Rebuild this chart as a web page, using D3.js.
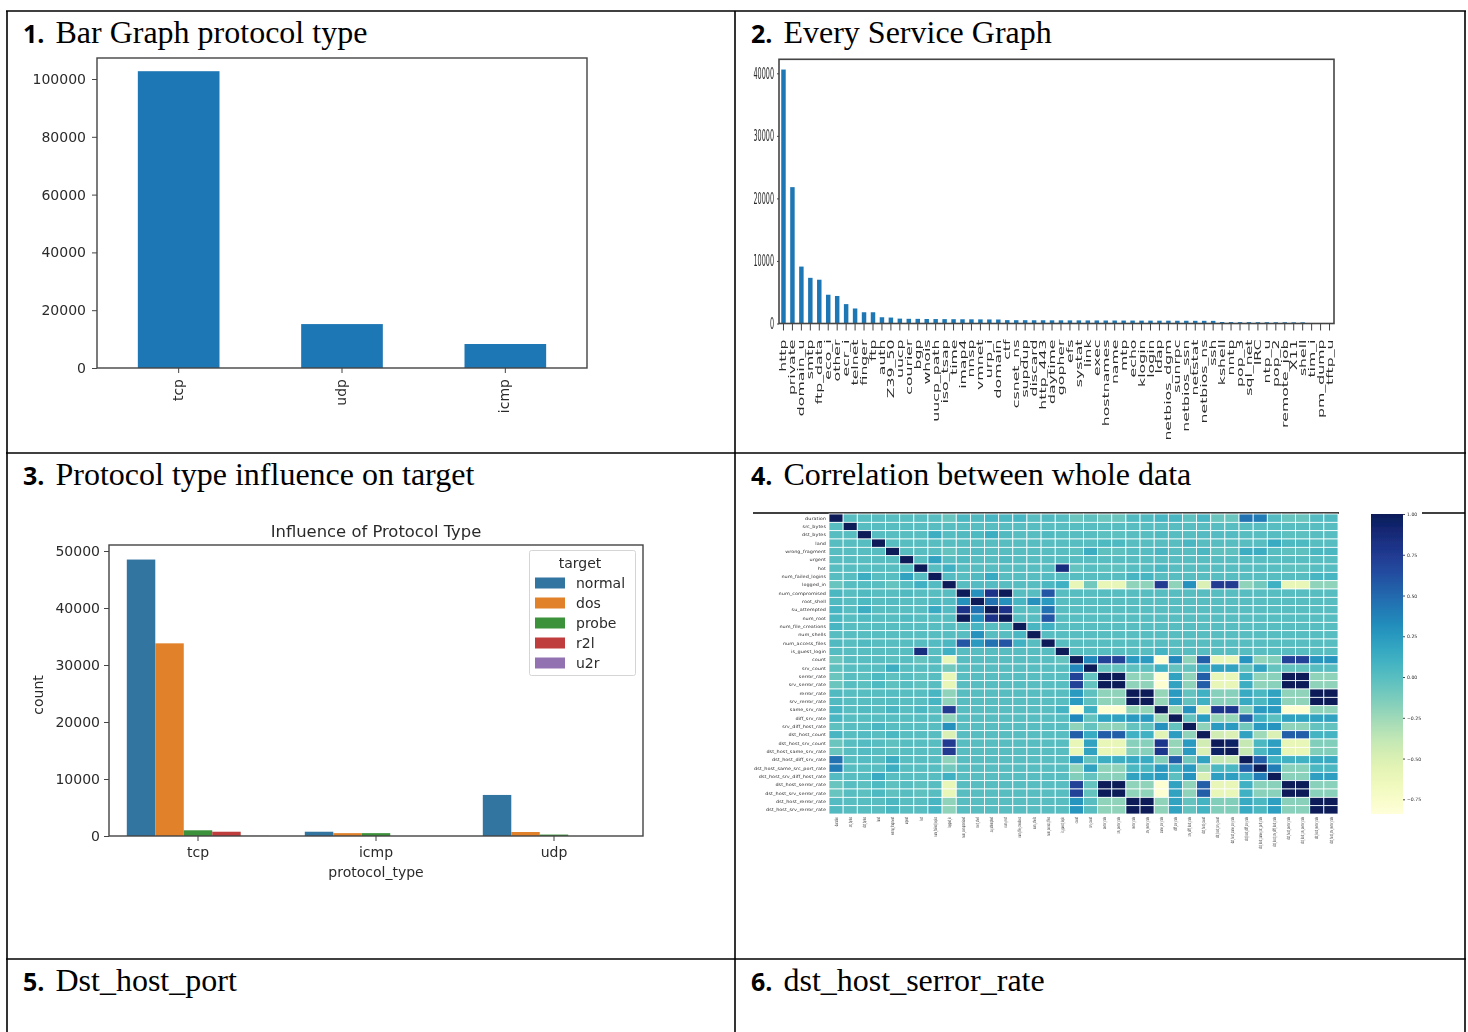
<!DOCTYPE html>
<html><head><meta charset="utf-8">
<script src="https://cdnjs.cloudflare.com/ajax/libs/d3/7.8.5/d3.min.js"></script>
<style>html,body{margin:0;padding:0;background:#fff;overflow:hidden}svg{display:block}text{font-family:"DejaVu Sans",sans-serif}</style>
</head><body><svg id="c" width="1468" height="1032"></svg>
<script>
const protocols=["tcp","udp","icmp"];
const protocolCounts=[102700,15200,8300];
const services=["http","private","domain_u","smtp","ftp_data","eco_i","other","ecr_i","telnet","finger","ftp","auth","Z39_50","uucp","courier","bgp","whois","uucp_path","iso_tsap","time","imap4","nnsp","vmnet","urp_i","domain","ctf","csnet_ns","supdup","discard","http_443","daytime","gopher","efs","systat","link","exec","hostnames","name","mtp","echo","klogin","login","ldap","netbios_dgm","sunrpc","netbios_ssn","netstat","netbios_ns","ssh","kshell","nntp","pop_3","sql_net","IRC","ntp_u","pop_2","remote_job","X11","shell","tim_i","pm_dump","tftp_u"];
const serviceCounts=[40600,21800,9100,7300,7000,4600,4400,3100,2400,1800,1800,1000,950,780,750,740,720,710,700,690,680,670,660,650,640,540,530,530,520,520,510,510,500,500,490,490,480,480,470,470,460,460,450,450,440,440,430,430,420,240,230,220,220,210,210,200,200,190,190,8,5,3];
const targets=["normal","dos","probe","r2l","u2r"];
const protoOrder=["tcp","icmp","udp"];
const normalCounts=[48500,750,7200];
const dosCounts=[33800,500,700];
const probeCounts=[1000,500,250];
const r2lCounts=[750,0,0];
const u2rCounts=[30,0,0];
const targetColors=["#3274a1","#e1812c","#3a923a","#c03d3e","#9372b2"];
const features=["duration","src_bytes","dst_bytes","land","wrong_fragment","urgent","hot","num_failed_logins","logged_in","num_compromised","root_shell","su_attempted","num_root","num_file_creations","num_shells","num_access_files","is_guest_login","count","srv_count","serror_rate","srv_serror_rate","rerror_rate","srv_rerror_rate","same_srv_rate","diff_srv_rate","srv_diff_host_rate","dst_host_count","dst_host_srv_count","dst_host_same_srv_rate","dst_host_diff_srv_rate","dst_host_same_src_port_rate","dst_host_srv_diff_host_rate","dst_host_serror_rate","dst_host_srv_serror_rate","dst_host_rerror_rate","dst_host_srv_rerror_rate"];
const corr=[
[1,0,0,0,0,0,0,0,-.06,.05,.03,.07,.05,.07,0,.03,.01,-.07,-.03,-.07,-.07,.03,.03,.07,.06,-.03,.07,-.07,-.07,.45,.4,.02,-.06,-.06,.02,.03],
[0,1,0,0,0,0,0,0,0,0,0,0,0,0,0,0,0,0,0,0,0,0,0,0,0,0,0,0,0,0,0,0,0,0,0,0],
[0,0,1,0,0,0,0,.12,.01,.03,.04,.12,.03,0,0,.03,0,0,0,-.02,-.02,0,0,.03,0,0,.02,.02,.02,0,0,.01,-.02,-.02,0,0],
[0,0,0,1,0,0,0,0,0,0,0,0,0,0,0,0,0,0,0,.04,.04,0,0,0,0,.06,0,0,0,0,0,.14,.04,.04,0,0],
[0,0,0,0,1,0,0,0,-.05,0,.02,0,0,0,0,0,0,-.02,.12,-.03,-.03,.01,.01,.06,0,0,.05,-.03,-.03,.12,.12,0,-.03,-.03,.05,.05],
[0,0,0,0,0,1,0,.2,0,.03,0,0,.03,0,0,0,0,0,0,0,0,0,0,0,0,0,0,0,0,0,0,0,0,0,0,0],
[0,0,0,0,0,0,1,0,.1,0,0,0,0,0,0,0,.85,-.05,0,-.03,-.03,0,0,.05,0,0,0,0,0,0,0,0,-.03,-.03,0,0],
[0,0,.12,0,0,.2,0,1,.02,0,.03,.15,0,0,0,.02,0,0,0,0,0,.07,.07,0,0,0,0,0,0,0,0,0,0,0,.07,.07],
[-.06,0,.01,0,-.05,0,.1,.02,1,0,.02,.02,0,0,0,.05,.1,-.6,-.1,-.6,-.6,-.2,-.2,.75,-.2,.3,-.5,.75,.75,-.2,-.1,.1,-.6,-.6,-.2,-.2],
[.05,0,.03,0,0,.03,0,0,0,1,.3,.8,1,0,0,.6,0,0,0,0,0,0,0,0,0,0,0,0,0,0,0,0,0,0,0,0],
[.03,0,.04,0,.02,0,0,.03,.02,.3,1,.45,.3,.07,.3,.25,0,0,0,0,0,0,0,0,0,0,0,0,0,0,0,0,0,0,0,0],
[.07,0,.12,0,0,0,0,.15,.02,.8,.45,1,.8,0,0,.45,0,0,0,0,0,0,0,0,0,0,0,0,0,0,0,0,0,0,0,0],
[.05,0,.03,0,0,.03,0,0,0,1,.3,.8,1,0,0,.6,0,0,0,0,0,0,0,0,0,0,0,0,0,0,0,0,0,0,0,0],
[.07,0,0,0,0,0,0,0,0,0,.07,0,0,1,.06,.1,0,0,0,0,0,0,0,0,0,0,0,0,0,0,0,0,0,0,0,0],
[0,0,0,0,0,0,0,0,0,0,.3,0,0,.06,1,0,0,0,0,0,0,0,0,0,0,0,0,0,0,0,0,0,0,0,0,0],
[.03,0,.03,0,0,0,0,.02,.05,.6,.25,.45,.6,.1,0,1,0,0,0,0,0,0,0,0,0,0,0,0,0,0,0,0,0,0,0,0],
[.01,0,0,0,0,0,.85,0,.1,0,0,0,0,0,0,0,1,0,0,0,0,0,0,.08,0,0,0,0,0,0,0,0,0,0,0,0],
[-.07,0,0,0,-.02,0,-.05,0,-.6,0,0,0,0,0,0,0,-.05,1,.35,.7,.7,.25,.25,-.8,.35,-.2,.55,-.6,-.6,.28,-.2,-.15,.7,.7,.27,.27],
[-.03,0,0,0,.12,0,0,0,-.1,0,0,0,0,0,0,0,0,.35,1,-.05,-.05,-.03,-.03,.1,-.05,-.05,.15,.2,.2,-.05,.2,-.05,-.05,-.05,0,0],
[-.07,0,-.02,.04,-.03,0,-.03,0,-.6,0,0,0,0,0,0,0,0,.7,-.05,1,1,-.2,-.2,-.8,.2,-.2,.55,-.6,-.6,.12,-.2,-.18,1,1,-.2,-.2],
[-.07,0,-.02,.04,-.03,0,-.03,0,-.6,0,0,0,0,0,0,0,0,.7,-.05,1,1,-.2,-.2,-.8,.2,-.2,.55,-.6,-.6,.12,-.2,-.18,1,1,-.2,-.2],
[.03,0,0,0,.01,0,0,.07,-.2,0,0,0,0,0,0,0,0,.25,-.03,-.2,-.2,1,1,-.22,.25,-.05,.1,-.17,-.17,.15,.05,.2,-.2,-.2,1,1],
[.03,0,0,0,.01,0,0,.07,-.2,0,0,0,0,0,0,0,0,.25,-.03,-.2,-.2,1,1,-.22,.25,-.05,.1,-.17,-.17,.15,.05,.2,-.2,-.2,1,1],
[.07,0,.03,0,.06,0,.05,0,.75,0,0,0,0,0,0,0,.08,-.8,.1,-.8,-.8,-.22,-.22,1,-.25,.3,-.55,.78,.78,-.15,.25,.25,-.8,-.8,-.2,-.2],
[.06,0,0,0,0,0,0,0,-.2,0,0,0,0,0,0,0,0,.35,-.05,.2,.2,.25,.25,-.25,1,-.05,.23,-.22,-.22,.55,.1,-.02,.2,.2,.2,.2],
[-.03,0,0,.06,0,0,0,0,.3,0,0,0,0,0,0,0,0,-.2,-.05,-.2,-.2,-.05,-.05,.3,-.05,1,-.2,.25,.25,-.1,.25,.28,-.2,-.2,-.05,-.05],
[.07,0,.02,0,.05,0,0,0,-.5,0,0,0,0,0,0,0,0,.55,.15,.55,.55,.1,.1,-.55,.23,-.2,1,-.45,-.5,.2,-.25,-.5,.55,.55,.08,.08],
[-.07,0,.02,0,-.03,0,0,0,.75,0,0,0,0,0,0,0,0,-.6,.2,-.6,-.6,-.17,-.17,.78,-.22,.25,-.45,1,.95,-.4,.05,.22,-.6,-.6,-.15,-.15],
[-.07,0,.02,0,-.03,0,0,0,.75,0,0,0,0,0,0,0,0,-.6,.2,-.6,-.6,-.17,-.17,.78,-.22,.25,-.5,.95,1,-.4,.05,.22,-.6,-.6,-.15,-.15],
[.45,0,.02,0,.12,0,0,0,-.2,0,0,0,0,0,0,0,0,.28,-.05,.12,.12,.15,.15,-.15,.55,-.1,.2,-.4,-.4,1,.55,.1,.1,.1,.15,.15],
[.4,0,0,0,.12,0,0,0,-.1,0,0,0,0,0,0,0,0,-.2,.2,-.2,-.2,.05,.05,.25,.1,.25,-.25,.05,.05,.55,1,.4,-.18,-.18,.05,.05],
[.02,0,.01,.14,0,0,0,0,.1,0,0,0,0,0,0,0,0,-.15,-.05,-.18,-.18,.2,.2,.25,-.02,.28,-.5,.22,.22,.1,.4,1,-.18,-.18,.22,.22],
[-.06,0,-.02,.04,-.03,0,-.03,0,-.6,0,0,0,0,0,0,0,0,.7,-.05,1,1,-.2,-.2,-.8,.2,-.2,.55,-.6,-.6,.1,-.18,-.18,1,1,-.18,-.18],
[-.06,0,-.02,.04,-.03,0,-.03,0,-.6,0,0,0,0,0,0,0,0,.7,-.05,1,1,-.2,-.2,-.8,.2,-.2,.55,-.6,-.6,.1,-.18,-.18,1,1,-.18,-.18],
[.02,0,0,0,.05,0,0,.07,-.2,0,0,0,0,0,0,0,0,.27,0,-.2,-.2,1,1,-.2,.2,-.05,.08,-.15,-.15,.15,.05,.22,-.18,-.18,1,1],
[.03,0,0,0,.05,0,0,.07,-.2,0,0,0,0,0,0,0,0,.27,0,-.2,-.2,1,1,-.2,.2,-.05,.08,-.15,-.15,.15,.05,.22,-.18,-.18,1,1]
];
const colorbarTicks=[1,.75,.5,.25,0,-.25,-.5,-.75];
const headings=[["1.","Bar Graph protocol type"],["2.","Every Service Graph"],["3.","Protocol type influence on target"],["4.","Correlation between whole data"],["5.","Dst_host_port"],["6.","dst_host_serror_rate"]];

const svg=d3.select("#c");
const defs=svg.append("defs");
defs.append("filter").attr("id","soft").attr("x","-5%").attr("y","-5%").attr("width","110%").attr("height","110%")
  .append("feGaussianBlur").attr("stdDeviation",0.55);
const ink="#2b2b2b", axisInk="#444";

// document table
const grid=svg.append("g");
const hLines=[11,453,959], vLines=[7,735,1465];
grid.selectAll(".h").data(hLines).join("line").attr("x1",6).attr("x2",1466).attr("y1",d=>d).attr("y2",d=>d).attr("stroke","#000").attr("stroke-width",1.6);
grid.selectAll(".v").data(vLines).join("line").attr("x1",d=>d).attr("x2",d=>d).attr("y1",11).attr("y2",1032).attr("stroke","#000").attr("stroke-width",1.6);
const headPos=[[23,43],[751,43],[23,485],[751,485],[23,991],[751,991]];
headPos.forEach((p,i)=>{
  const t=svg.append("text").attr("x",p[0]).attr("y",p[1]).attr("fill","#000");
  t.append("tspan").text(headings[i][0]).style("font-family","'Open Sans',sans-serif").style("font-weight",700).style("font-size","25px");
  t.append("tspan").attr("dx",11).text(headings[i][1]).style("font-family","'Liberation Serif',serif").style("font-size","32px");
});

function frame(g,x0,x1,y0,y1,w){
  g.append("rect").attr("x",x0).attr("y",y0).attr("width",x1-x0).attr("height",y1-y0).attr("fill","none").attr("stroke",axisInk).attr("stroke-width",w||1.4);
}
function styleAxis(sel,size){
  sel.select(".domain").remove();
  sel.selectAll("line").attr("stroke",axisInk);
  sel.selectAll("text").attr("fill",ink).style("font-family","'DejaVu Sans',sans-serif").style("font-size",size+"px");
}

// Panel 1
{
  const g=svg.append("g").attr("filter","url(#soft)");
  const x=d3.scaleBand().domain(protocols).range([97,587]).paddingInner(.5).paddingOuter(.25);
  const y=d3.scaleLinear().domain([0,100000]).range([368,79]);
  g.selectAll("rect.b").data(protocols).join("rect").attr("x",d=>x(d)).attr("width",x.bandwidth())
    .attr("y",(d,i)=>y(protocolCounts[i])).attr("height",(d,i)=>y(0)-y(protocolCounts[i])).attr("fill","#1f77b4");
  frame(g,97,587,58,368);
  const ay=g.append("g").attr("transform","translate(97,0)").call(d3.axisLeft(y).tickValues([0,20000,40000,60000,80000,100000]).tickFormat(d3.format("d")).tickSize(5).tickPadding(6));
  styleAxis(ay,14);
  const ax=g.append("g").attr("transform","translate(0,368)").call(d3.axisBottom(x).tickSize(5).tickPadding(5));
  styleAxis(ax,14);
  ax.selectAll("text").attr("transform","rotate(-90)").attr("x",-11).attr("y",-1).attr("dy",".35em").style("text-anchor","end");
}

// Panel 2
{
  const g=svg.append("g").attr("filter","url(#soft)");
  const x=d3.scaleBand().domain(services).range([779,1334]).paddingInner(.5).paddingOuter(.25);
  const y=d3.scaleLinear().domain([0,40000]).range([323.5,73.3]);
  g.selectAll("rect.b").data(services).join("rect").attr("x",d=>x(d)).attr("width",x.bandwidth())
    .attr("y",(d,i)=>y(serviceCounts[i])).attr("height",(d,i)=>y(0)-y(serviceCounts[i])).attr("fill","#1f77b4");
  frame(g,779,1334,59.3,323.5,1.6);
  const ay=g.append("g").attr("transform","translate(779,0)").call(d3.axisLeft(y).tickValues([0,10000,20000,30000,40000]).tickFormat(d3.format("d")).tickSize(2));
  styleAxis(ay,15);
  ay.selectAll("text").attr("transform","scale(.43,1)").attr("x",-5/.43);
  const ax=g.append("g").attr("transform","translate(0,323.5)").call(d3.axisBottom(x).tickSize(7));
  styleAxis(ax,8.6);
  ax.selectAll("text").attr("transform","rotate(-90) scale(1.83,1)").attr("x",-16/1.83).attr("y",0).attr("dy",".35em").style("text-anchor","end");
}

// Panel 3
{
  const g=svg.append("g").attr("filter","url(#soft)");
  const x=d3.scaleBand().domain(protoOrder).range([109,643]).paddingInner(.2).paddingOuter(.1);
  const xs=d3.scaleBand().domain(targets).range([0,x.bandwidth()]);
  const y=d3.scaleLinear().domain([0,50000]).range([836,551]);
  const color=d3.scaleOrdinal(targets,targetColors);
  const series=[normalCounts,dosCounts,probeCounts,r2lCounts,u2rCounts];
  targets.forEach((t,k)=>{
    g.selectAll("rect.s"+k).data(protoOrder).join("rect").attr("x",d=>x(d)+xs(t)).attr("width",xs.bandwidth())
      .attr("y",(d,i)=>y(series[k][i])).attr("height",(d,i)=>y(0)-y(series[k][i])).attr("fill",color(t));
  });
  frame(g,109,643,545,836);
  const ay=g.append("g").attr("transform","translate(109,0)").call(d3.axisLeft(y).ticks(5).tickFormat(d3.format("d")).tickSize(5).tickPadding(4));
  styleAxis(ay,14);
  const ax=g.append("g").attr("transform","translate(0,836)").call(d3.axisBottom(x).tickSize(5).tickPadding(6));
  styleAxis(ax,14);
  g.append("text").attr("x",376).attr("y",537).attr("text-anchor","middle").attr("fill",ink).style("font-size","16.4px").text("Influence of Protocol Type");
  g.append("text").attr("x",376).attr("y",877).attr("text-anchor","middle").attr("fill",ink).style("font-size","14px").text("protocol_type");
  g.append("text").attr("transform","translate(43,695) rotate(-90)").attr("text-anchor","middle").attr("fill",ink).style("font-size","14px").text("count");
  const lg=g.append("g");
  lg.append("rect").attr("x",529.5).attr("y",550.5).attr("width",106).attr("height",125).attr("rx",2).attr("fill","#fff").attr("fill-opacity",.8).attr("stroke","#d5d5d5");
  lg.append("text").attr("x",580).attr("y",568).attr("text-anchor","middle").attr("fill",ink).style("font-size","14px").text("target");
  const ly=d3.scalePoint().domain(targets).range([583,663]);
  lg.selectAll("rect.k").data(targets).join("rect").attr("x",535).attr("width",30).attr("y",d=>ly(d)-5.5).attr("height",11).attr("fill",d=>color(d));
  lg.selectAll("text.k").data(targets).join("text").attr("x",576).attr("y",d=>ly(d)+5).attr("fill",ink).style("font-size","14px").text(d=>d);
}

// Panel 4
{
  svg.append("line").attr("x1",753).attr("x2",1465).attr("y1",513).attr("y2",513).attr("stroke","#000").attr("stroke-width",1.6);
  svg.append("rect").attr("x",1339).attr("y",510).attr("width",83).attr("height",6).attr("fill","#fff");
  const g=svg.append("g").attr("filter","url(#soft)");
  const x=d3.scaleBand().domain(d3.range(features.length)).range([829,1338]);
  const y=d3.scaleBand().domain(d3.range(features.length)).range([514,814]);
  const color=d3.scaleSequential(d3.interpolateYlGnBu).domain([-.84,1]);
  corr.forEach((row,r)=>{
    g.selectAll("rect.r"+r).data(row).join("rect").attr("x",(d,c)=>x(c)).attr("y",y(r)).attr("width",x.bandwidth()).attr("height",y.bandwidth())
      .attr("fill",d=>color(d)).attr("stroke","#fff").attr("stroke-width",.8);
  });
  g.append("g").selectAll("text").data(features).join("text")
    .attr("transform",(d,i)=>`translate(826,${y(i)+y.bandwidth()/2}) scale(1.16,1)`).attr("dy",".35em")
    .attr("text-anchor","end").attr("fill","#333").style("font-size","4.3px").text(d=>d);
  g.append("g").selectAll("text").data(features).join("text")
    .attr("transform",(d,i)=>`translate(${x(i)+x.bandwidth()/2},817) rotate(-90) scale(.48,1)`)
    .attr("dy",".35em").attr("text-anchor","end").attr("fill","#333").style("font-size","4.6px").text(d=>d);
  const cb=d3.scaleLinear().domain([1,-.84]).range([514,814]);
  const grad=defs.append("linearGradient").attr("id","cbg").attr("x1",0).attr("x2",0).attr("y1",1).attr("y2",0);
  d3.range(0,1.001,.05).forEach(t=>grad.append("stop").attr("offset",t).attr("stop-color",d3.interpolateYlGnBu(t)));
  g.append("rect").attr("x",1371).attr("y",514).attr("width",32).attr("height",300).attr("fill","url(#cbg)");
  const ac=g.append("g").attr("transform","translate(1403,0)").call(d3.axisRight(cb).tickValues(colorbarTicks).tickFormat(d3.format(".2f")).tickSize(2).tickPadding(2));
  styleAxis(ac,4.6);
}
</script></body></html>
